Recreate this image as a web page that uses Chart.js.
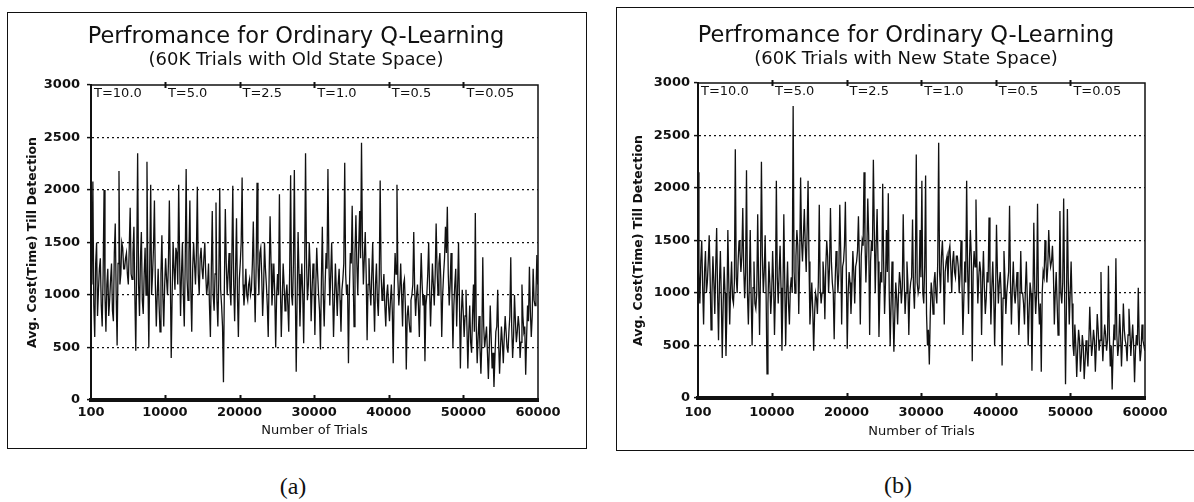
<!DOCTYPE html>
<html>
<head>
<meta charset="utf-8">
<script src="https://cdn.jsdelivr.net/npm/chart.js@4.4.0/dist/chart.umd.min.js"></script>
<style>
  body { margin: 0; background: #fff; width: 1194px; height: 502px; overflow: hidden; position: relative; }
  .frame { position: absolute; border: 1.5px solid #111; box-sizing: border-box; }
  canvas { position: absolute; }
  .cap { position: absolute; font: 24px "Liberation Serif"; color: #111; transform: translate(-50%, -50%); }
</style>
</head>
<body>
<div class="frame" style="left:7px;top:12px;width:580px;height:437px"></div>
<div class="frame" style="left:616px;top:7px;width:584px;height:444px"></div>
<canvas id="chartA" width="580" height="436" style="left:7px;top:12px"></canvas>
<canvas id="chartB" width="578" height="443" style="left:616px;top:7px"></canvas>
<div class="cap" style="left:293px;top:486px">(a)</div>
<div class="cap" style="left:898px;top:485px">(b)</div>

<script>
// one value every 125 trials, starting at trial 100
const TRIAL_START = 100;
const TRIAL_STEP = 125;

const xTicks = [100, 10000, 20000, 30000, 40000, 50000, 60000];
const tempStarts = [100, 10000, 20000, 30000, 40000, 50000];
const tempLabels = ["T=10.0", "T=5.0", "T=2.5", "T=1.0", "T=0.5", "T=0.05"];

// (a) old state space, one row = 5000 trials
const costOld = [
  1400,1100,2080,900,600,1300,1500,800,1050,1250,1350,900,700,1200,2000,1000,650,1100,1250,800,
  950,1150,1300,850,750,1400,1680,1000,520,1300,2180,1100,1200,1500,1450,1250,1250,1350,1400,1200,
  1100,1450,1830,1200,1150,1400,1650,1000,470,1300,2350,1100,800,1350,1600,950,820,1200,1450,1000,
  2270,1150,500,1300,2050,1000,1200,1450,1900,1100,700,1000,1250,900,650,1200,1570,1000,700,1100,
  1350,1150,1000,1300,1900,1200,400,1000,1500,1250,1050,1450,1400,1100,2050,1350,800,1200,1500,1000,
  700,1300,2200,1150,950,1400,1900,1050,650,1250,1500,1300,1100,1400,2030,1200,1000,1350,1450,1250,
  1150,1350,1500,1200,1000,1100,1300,900,600,1250,1800,1000,850,1200,1880,950,700,1150,2020,1050,
  900,700,170,1100,1820,1300,1000,1200,1400,1050,900,1350,2040,1100,750,1250,1730,1000,600,1150,
  1300,1500,2120,1100,900,1050,1250,1000,950,1100,1150,1000,1050,1300,1700,1150,740,1250,2070,1300,
  1000,1400,1450,1200,800,1050,1500,1250,1100,900,600,1200,1750,1300,900,1100,1300,1000,500,1000,
  1200,1000,1960,1100,600,950,1300,1100,850,1000,1100,900,650,1250,2140,1000,900,1300,2190,1050,
  270,1000,1600,1200,700,1050,1300,1000,540,1200,2350,1350,950,1100,1500,1250,750,1050,1300,1150,
  620,1100,1450,1200,1000,850,480,1150,1650,1000,700,1100,1400,1250,2200,1350,900,1200,1500,1050,
  600,950,1300,1050,800,1100,1250,950,650,1050,1150,1300,2260,1200,1000,1100,350,1050,1400,1300,
  1850,1200,700,1400,1760,1300,1000,1450,1800,1350,2450,1500,1100,1350,1600,1200,570,1100,1350,1050,
  900,1200,1500,1000,650,1100,1300,950,800,1150,2090,1200,950,1050,1200,900,700,1000,1100,900,
  750,950,1100,850,350,1050,1400,1200,2050,1150,900,1050,1300,1000,700,1100,1150,900,290,800,
  900,750,650,950,1000,1100,1600,1050,800,1000,1100,900,600,1050,1400,1100,900,1000,370,900,
  1000,1200,1500,1050,700,1000,1300,1100,900,1200,1680,1250,1000,1300,1400,1150,600,1000,1200,1350,
  1650,1400,1840,1200,900,1100,1400,1000,500,900,1100,1250,700,1050,1500,950,300,800,1050,850,
  600,800,1050,700,300,650,900,550,450,800,1100,650,1780,700,350,600,800,500,250,550,
  1360,700,500,600,700,450,200,500,900,600,300,450,125,400,650,700,1050,550,250,500,
  700,550,350,600,800,650,500,450,650,800,1360,700,400,600,1000,750,550,650,800,700,
  400,550,1100,800,650,700,240,600,900,750,1270,850,600,800,1250,950,900,1000,1380,1100
];

// (b) new state space, one row = 5000 trials
const costNew = [
  2150,1200,900,1300,1500,1050,700,1200,1400,1000,1100,1300,1550,1150,650,1000,1350,1100,800,1250,
  1620,1000,550,1100,1400,950,380,900,1250,1000,400,850,1600,1100,700,1050,1300,950,900,1100,
  2370,1150,1000,1300,1500,1400,1200,1350,1810,1250,950,1200,2170,1000,700,1100,1600,950,500,1050,
  1300,900,850,1000,1750,1100,600,1200,2250,1350,1000,1200,1550,1000,230,900,1300,1100,800,1000,
  1400,1100,600,1000,2070,1150,900,1200,1450,1050,450,950,1750,1100,500,1000,1300,900,700,1050,
  1150,1000,2780,1200,1000,1350,1600,1450,800,1300,2100,1500,1300,1550,1800,1450,1200,1600,2070,1300,
  700,900,1100,850,450,800,1000,950,800,1100,1840,1050,900,1000,1300,1150,750,1250,1500,1350,
  1000,1250,1810,1300,1100,1000,560,1100,1400,1250,1000,1200,1840,1400,700,1250,1300,1450,1870,1200,
  470,1000,1200,1100,800,1050,1400,1200,900,1250,1300,1400,1730,1300,700,1350,1500,1450,2150,1500,
  1100,1400,1900,1550,600,1300,1500,1400,2270,1600,1000,1450,1800,1300,580,1000,1200,1100,2040,1300,
  800,1100,1600,1200,1950,1000,500,900,1300,850,440,800,1100,950,700,1000,1200,1100,900,1050,
  1750,1150,800,1000,1300,1100,600,1000,1100,1150,1700,1050,850,1200,2320,1100,1000,1050,1600,1150,
  2070,1000,900,1250,2120,800,500,650,320,800,1100,1000,800,1100,1200,1000,900,1300,2430,1200,
  1000,1350,1500,1250,700,1200,1300,1350,1100,1400,1450,1250,1000,1300,1400,1200,1150,1350,1350,1250,
  1000,1200,1500,1100,600,950,1300,1100,2070,1250,800,1300,1600,1350,350,1200,1400,1250,1890,1300,
  900,1150,1300,1200,600,1100,1400,1050,800,950,1200,1100,1720,1200,700,1050,1300,1000,500,950,
  1650,1200,900,1100,1200,1000,310,950,1400,1150,800,1000,1100,1200,1830,1100,700,1050,1300,1000,
  900,1050,1200,950,600,900,1400,1000,1000,900,700,1050,1300,950,500,850,1100,1000,260,900,
  1670,1050,800,1000,1850,950,700,900,250,1000,1200,1150,1500,1300,1100,1250,1600,1350,1250,1300,
  1450,1200,700,1000,1200,900,600,850,1780,1000,900,1100,1900,1000,130,900,1800,1100,700,1000,
  1300,900,500,400,700,500,200,450,650,550,250,400,600,500,180,350,550,450,300,550,
  870,600,400,500,650,550,250,500,800,650,450,550,1200,600,350,550,700,600,450,550,
  1260,600,300,500,80,450,700,550,1330,600,400,500,800,600,300,550,900,650,550,500,
  350,600,850,650,400,550,700,500,150,450,600,500,1050,550,350,450,700,550,500,450
];

const INK = "#111";

const decor = {
  id: "decor",
  afterDraw(chart, args, opts) {
    const { ctx, chartArea: a } = chart;
    const x = chart.scales.x;
    ctx.save();
    ctx.strokeStyle = INK;
    ctx.fillStyle = INK;

    // top and right edges of the plot box
    ctx.lineWidth = 1.5;
    ctx.beginPath();
    ctx.moveTo(a.left, a.top);
    ctx.lineTo(a.right, a.top);
    ctx.lineTo(a.right, a.bottom);
    ctx.stroke();

    // small marks at 10000s, bottom and top
    ctx.lineWidth = 2;
    tempStarts.slice(1).forEach(v => {
      const px = Math.round(x.getPixelForValue(v)) + 0.5;
      ctx.beginPath();
      ctx.moveTo(px, a.bottom); ctx.lineTo(px, a.bottom - 5);
      ctx.moveTo(px, a.top - 3); ctx.lineTo(px, a.top + 3);
      ctx.stroke();
    });

    // temperature labels
    ctx.font = '13px "DejaVu Sans"';
    ctx.textAlign = "left";
    ctx.textBaseline = "middle";
    tempLabels.forEach((t, i) => {
      ctx.fillText(t, x.getPixelForValue(tempStarts[i]) + 3, a.top + 9);
    });

    // two-line title
    ctx.textAlign = "center";
    ctx.font = '22.5px "DejaVu Sans"';
    ctx.fillText(opts.line1, opts.cx, opts.y1);
    ctx.font = '18px "DejaVu Sans"';
    ctx.fillText(opts.line2, opts.cx, opts.y2);
    ctx.restore();
  }
};

function makePanel(id, values, g) {
  const points = values.map((v, i) => ({ x: TRIAL_START + i * TRIAL_STEP, y: v }));
  return new Chart(document.getElementById(id), {
    type: "line",
    data: {
      datasets: [{
        data: points,
        borderColor: "#111",
        borderWidth: 1.3,
        pointRadius: 0,
        tension: 0
      }]
    },
    options: {
      responsive: false,
      animation: false,
      layout: { padding: { left: 0, top: g.padTop, right: g.padRight, bottom: 0 } },
      plugins: {
        legend: { display: false },
        tooltip: { enabled: false },
        decor: { line1: g.line1, line2: g.line2, cx: g.titleX, y1: g.y1, y2: g.y2 }
      },
      scales: {
        x: {
          type: "linear",
          min: 100,
          max: 60000,
          afterBuildTicks: s => { s.ticks = xTicks.map(v => ({ value: v })); },
          afterFit: s => { s.height = g.xHeight; },
          ticks: {
            color: INK,
            font: { family: "DejaVu Sans", size: 13, weight: "bold" },
            padding: g.xTickPad,
            maxRotation: 0,
            autoSkip: false,
            callback: v => String(v)
          },
          grid: { drawOnChartArea: false, drawTicks: false },
          border: { color: INK, width: 4 },
          title: {
            display: true,
            text: "Number of Trials",
            color: INK,
            font: { family: "DejaVu Sans", size: 13 },
            padding: { top: 0, bottom: g.xTitlePad }
          }
        },
        y: {
          min: 0,
          max: 3000,
          afterFit: s => { s.width = g.yWidth; },
          ticks: {
            stepSize: 500,
            color: INK,
            font: { family: "DejaVu Sans", size: 13, weight: "bold" },
            padding: g.yTickPad,
            callback: v => String(v)
          },
          grid: {
            color: c => (c.tick && (c.tick.value === 0 || c.tick.value === 3000)) ? "rgba(0,0,0,0)" : INK,
            lineWidth: 1.2,
            tickColor: INK,
            tickLength: 4,
            tickWidth: 1.5,
            tickBorderDash: []
          },
          border: { color: INK, width: 2, dash: [2, 3] },
          title: {
            display: true,
            text: "Avg. Cost(Time) Till Detection",
            color: INK,
            font: { family: "DejaVu Sans", size: 12.5, weight: "bold" },
            padding: { top: g.yTitlePad, bottom: 0 }
          }
        }
      }
    },
    plugins: [decor]
  });
}

makePanel("chartA", costOld, {
  padTop: 73, padRight: 49, yWidth: 84, xHeight: 48,
  xTickPad: 5, xTitlePad: 10, yTickPad: 7, yTitlePad: 18.5,
  line1: "Perfromance for Ordinary Q-Learning",
  line2: "(60K Trials with Old State Space)",
  titleX: 289, y1: 25, y2: 48
});

makePanel("chartB", costNew, {
  padTop: 76, padRight: 49, yWidth: 82, xHeight: 52,
  xTickPad: 7, xTitlePad: 11, yTickPad: 4, yTitlePad: 15.5,
  line1: "Perfromance for Ordinary Q-Learning",
  line2: "(60K Trials with New State Space)",
  titleX: 290, y1: 29, y2: 52
});
</script>
</body>
</html>
